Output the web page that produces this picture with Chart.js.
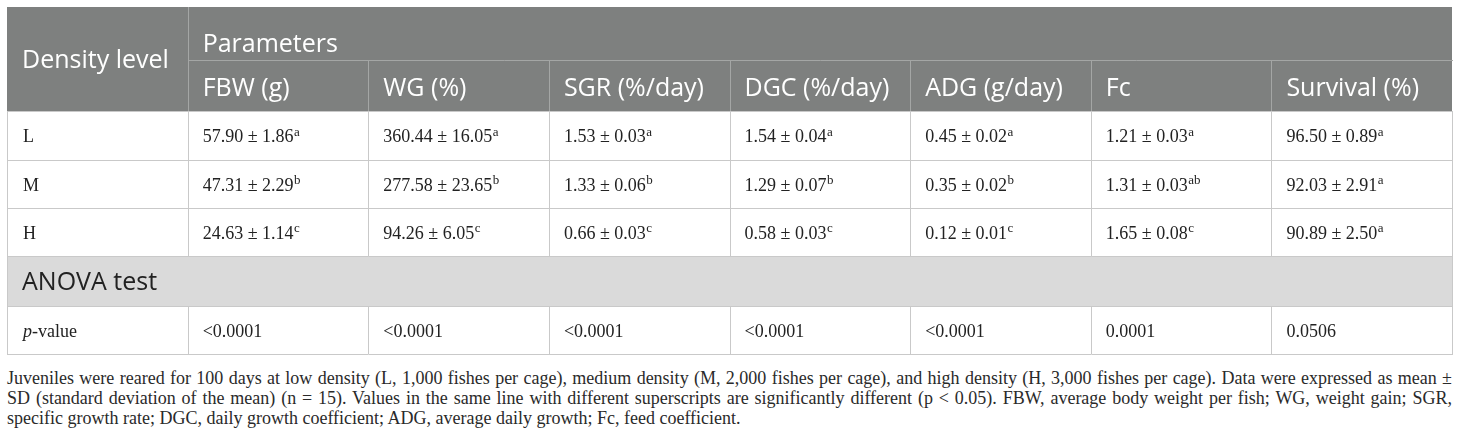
<!DOCTYPE html>
<html>
<head>
<meta charset="utf-8">
<script src="https://cdn.jsdelivr.net/npm/chart.js@4.4.1/dist/chart.umd.min.js"></script>
<style>
  html, body { margin: 0; padding: 0; background: #fff; }
  #wrap { position: relative; width: 1460px; height: 362px; }
  #note {
    position: absolute; left: 7px; top: 368px; width: 1445px;
    font-family: "Liberation Serif", "DejaVu Serif", serif;
    font-size: 18px; line-height: 20px; color: #2a2a2a;
  }
  #note .j { text-align: justify; text-align-last: justify; white-space: nowrap; }
</style>
</head>
<body>
<div id="wrap"><canvas id="chart"></canvas></div>
<div id="note">
  <div class="j">Juveniles were reared for 100 days at low density (L, 1,000 fishes per cage), medium density (M, 2,000 fishes per cage), and high density (H, 3,000 fishes per cage). Data were expressed as mean ±</div>
  <div class="j">SD (standard deviation of the mean) (n = 15). Values in the same line with different superscripts are significantly different (p &lt; 0.05). FBW, average body weight per fish; WG, weight gain; SGR,</div>
  <div>specific growth rate; DGC, daily growth coefficient; ADG, average daily growth; Fc, feed coefficient.</div>
</div>
<script>
// table content
const parameters = ["FBW (g)", "WG (%)", "SGR (%/day)", "DGC (%/day)", "ADG (g/day)", "Fc", "Survival (%)"];
const densityLevels = ["L", "M", "H"];

const lowMean  = [57.90, 360.44, 1.53, 1.54, 0.45, 1.21, 96.50];
const lowSd    = [1.86, 16.05, 0.03, 0.04, 0.02, 0.03, 0.89];
const lowSig   = ["a", "a", "a", "a", "a", "a", "a"];

const midMean  = [47.31, 277.58, 1.33, 1.29, 0.35, 1.31, 92.03];
const midSd    = [2.29, 23.65, 0.06, 0.07, 0.02, 0.03, 2.91];
const midSig   = ["b", "b", "b", "b", "b", "ab", "a"];

const highMean = [24.63, 94.26, 0.66, 0.58, 0.12, 1.65, 90.89];
const highSd   = [1.14, 6.05, 0.03, 0.03, 0.01, 0.08, 2.50];
const highSig  = ["c", "c", "c", "c", "c", "c", "a"];

const pValues  = ["<0.0001", "<0.0001", "<0.0001", "<0.0001", "<0.0001", "0.0001", "0.0506"];

// layout: row boundaries in y-scale units (header 1, header 2, L, M, H, ANOVA, p-value)
const rowEdges = [0, 53, 104, 153, 201, 249, 299, 347];
const rowMid = r => (rowEdges[r] + rowEdges[r + 1]) / 2;

const HEADER_BG = "#7e807f";
const ANOVA_BG = "#dadada";
const LINE = "#c9c9c9";
const HEAD_LINE = "#a4a6a5";
const TEXT = "#222";
const SANS = '"Open Sans", sans-serif';
const SERIF = '"Liberation Serif", serif';
const HEAD_SIZE = 25;
const BODY_SIZE = 18;

function cellRow(means, sds, sigs, r) {
  return {
    data: means.map((m, i) => ({ x: i + 1, y: rowMid(r) })),
    cells: means.map((m, i) => ({ main: m.toFixed(2) + " \u00b1 " + sds[i].toFixed(2), sup: sigs[i] })),
    pointRadius: 0
  };
}

const tablePlugin = {
  id: "tableCells",
  beforeDatasetsDraw(chart) {
    const { ctx, scales: { x, y } } = chart;
    const px = c => Math.round(x.getPixelForValue(c));
    const py = r => Math.round(y.getPixelForValue(rowEdges[r]));
    ctx.save();
    ctx.fillStyle = HEADER_BG;
    ctx.fillRect(px(0), py(0), px(8) - px(0), py(2) - py(0));
    ctx.fillStyle = ANOVA_BG;
    ctx.fillRect(px(0), py(5), px(8) - px(0), py(6) - py(5));

    ctx.lineWidth = 1;
    const vline = (c, r1, r2, col) => {
      ctx.strokeStyle = col;
      ctx.beginPath();
      ctx.moveTo(px(c) + 0.5, py(r1));
      ctx.lineTo(px(c) + 0.5, py(r2));
      ctx.stroke();
    };
    const hline = (r, c1, c2, col) => {
      ctx.strokeStyle = col;
      ctx.beginPath();
      ctx.moveTo(px(c1), py(r) + 0.5);
      ctx.lineTo(px(c2) + 1, py(r) + 0.5);
      ctx.stroke();
    };
    // header dividers
    vline(1, 0, 2, HEAD_LINE);
    for (let c = 2; c < 8; c++) vline(c, 1, 2, HEAD_LINE);
    hline(1, 1, 8, HEAD_LINE);
    // body grid
    for (let r = 2; r <= 7; r++) hline(r, 0, 8, LINE);
    for (let c = 1; c < 8; c++) { vline(c, 2, 5, LINE); vline(c, 6, 7, LINE); }
    vline(0, 2, 7, LINE);
    vline(8, 2, 7, LINE);
    ctx.restore();
  },
  afterDatasetsDraw(chart) {
    const { ctx, scales: { x, y } } = chart;
    const px = c => x.getPixelForValue(c);
    const pyMid = r => y.getPixelForValue(rowMid(r));
    const headCap = HEAD_SIZE * 0.714;
    const bodyCap = BODY_SIZE * 0.66;
    ctx.save();
    ctx.textBaseline = "alphabetic";
    ctx.textAlign = "left";

    // header
    ctx.fillStyle = "#fff";
    ctx.font = HEAD_SIZE + "px " + SANS;
    const spanMid = (y.getPixelForValue(rowEdges[0]) + y.getPixelForValue(rowEdges[2])) / 2;
    ctx.fillText("Density level", px(0) + 15, spanMid + headCap / 2);
    ctx.fillText("Parameters", px(1) + 15, pyMid(0) + headCap / 2 + 10);
    parameters.forEach((p, i) => ctx.fillText(p, px(i + 1) + 15, pyMid(1) + headCap / 2 + 1.5));

    // ANOVA row
    ctx.fillStyle = TEXT;
    ctx.fillText("ANOVA test", px(0) + 15, pyMid(5) + headCap / 2);

    // row labels
    const bodyBase = r => pyMid(r) + bodyCap / 2 + 1;
    ctx.font = BODY_SIZE + "px " + SERIF;
    densityLevels.forEach((d, i) => ctx.fillText(d, px(0) + 16, bodyBase(i + 2)));
    ctx.font = "italic " + BODY_SIZE + "px " + SERIF;
    ctx.fillText("p", px(0) + 16, bodyBase(6));
    const pw = ctx.measureText("p").width;
    ctx.font = BODY_SIZE + "px " + SERIF;
    ctx.fillText("-value", px(0) + 16 + pw, bodyBase(6));

    // cell values at the dataset points
    chart.data.datasets.forEach((ds, di) => {
      const meta = chart.getDatasetMeta(di);
      meta.data.forEach((pt, i) => {
        const cell = ds.cells[i];
        const bx = pt.x + 15, by = pt.y + bodyCap / 2 + 1;
        ctx.font = BODY_SIZE + "px " + SERIF;
        ctx.fillText(cell.main, bx, by);
        if (cell.sup) {
          const w = ctx.measureText(cell.main).width;
          ctx.font = "13px " + SERIF;
          ctx.fillText(cell.sup, bx + w + 0.5, by - 6.5);
        }
      });
    });
    ctx.restore();
  }
};

const datasets = [
  cellRow(lowMean, lowSd, lowSig, 2),
  cellRow(midMean, midSd, midSig, 3),
  cellRow(highMean, highSd, highSig, 4),
  {
    data: pValues.map((v, i) => ({ x: i + 1, y: rowMid(6) })),
    cells: pValues.map(v => ({ main: v, sup: "" })),
    pointRadius: 0
  }
];

new Chart(document.getElementById("chart"), {
  type: "scatter",
  data: { datasets: datasets },
  options: {
    responsive: true,
    maintainAspectRatio: false,
    animation: false,
    events: [],
    layout: { padding: { left: 7, right: 8, top: 7, bottom: 8 } },
    scales: {
      x: { type: "linear", min: 0, max: 8, display: false },
      y: { type: "linear", min: 0, max: rowEdges[rowEdges.length - 1], reverse: true, display: false }
    },
    plugins: { legend: { display: false }, tooltip: { enabled: false } }
  },
  plugins: [tablePlugin]
});
</script>
</body>
</html>
